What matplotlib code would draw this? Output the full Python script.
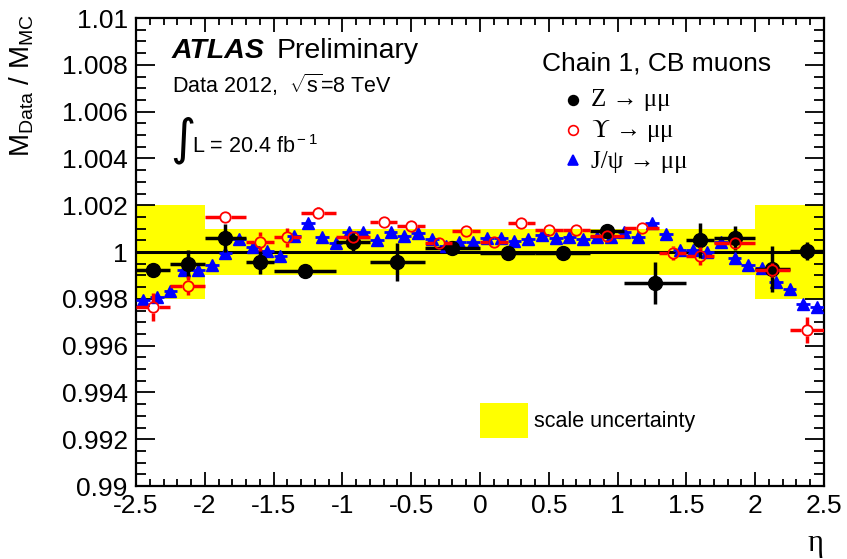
import matplotlib

matplotlib.use("Agg")
import matplotlib.pyplot as plt
import numpy as np
from matplotlib.patches import Rectangle
from matplotlib.ticker import FuncFormatter, MultipleLocator

plt.rcParams["font.family"] = ["Liberation Sans", "DejaVu Sans"]
plt.rcParams["mathtext.fontset"] = "custom"
plt.rcParams["mathtext.rm"] = "Liberation Sans"
plt.rcParams["mathtext.it"] = "Liberation Sans:italic"
plt.rcParams["mathtext.bf"] = "Liberation Sans:bold"

# Z -> mumu, variable eta bins
z_edges = [-2.5, -2.25, -2.0, -1.7, -1.5, -1.05, -0.8, -0.4, 0.0, 0.4, 0.8, 1.05, 1.5, 1.7, 2.0, 2.25, 2.5]
z_ratio = [0.99923, 0.99949, 1.0006, 0.99957, 0.99919, 1.00043, 0.99957, 1.00017,
           0.99996, 0.99996, 1.0009, 0.99867, 1.00051, 1.0006, 0.99927, 1.00004]
z_err = [0.0002, 0.0006, 0.0006, 0.0005, 0.00015, 0.0004, 0.0008, 0.0002,
         0.0001, 0.0001, 0.0002, 0.0009, 0.00075, 0.0005, 0.001, 0.0004]

# Upsilon -> mumu
ups_edges = [-2.5, -2.25, -2.0, -1.7, -1.5, -1.3, -1.05, -0.8, -0.6, -0.4, -0.2, 0.0,
             0.2, 0.4, 0.6, 0.8, 1.05, 1.3, 1.5, 1.7, 2.0, 2.25, 2.5]
ups_ratio = [0.99763, 0.99856, 1.00148, 1.00044, 1.00063, 1.00166, 1.00063, 1.00127, 1.00113, 1.00037, 1.00091,
             1.00044, 1.00125, 1.00094, 1.00094, 1.00068, 1.00104, 0.99997, 0.99983, 1.0004, 0.99923, 0.99666]
ups_err = [0.0006, 0.0004, 0.0002, 0.0004, 0.0004, 0.00025, 0.0002, 0.0002, 0.0001, 0.0001, 0.0001,
           0.0001, 0.0001, 0.0001, 0.0001, 0.0001, 0.0002, 0.0003, 0.0004, 0.0002, 0.0003, 0.00057]

# J/psi -> mumu, 0.1 wide eta bins
jpsi_edges = np.round(np.arange(-2.5, 2.51, 0.1), 2)
jpsi_ratio = [0.99793, 0.99809, 0.99834, 0.99923, 0.99923, 0.99944, 0.99994, 1.00056, 1.00023, 1.00006,
              0.99983, 1.0007, 1.00123, 1.00063, 1.00037, 1.00084, 1.00084, 1.00051, 1.00084, 1.0007,
              1.0008, 1.00056, 1.00027, 1.00044, 1.00044, 1.00059, 1.00059, 1.00048, 1.00056, 1.00073,
              1.00059, 1.00063, 1.00056, 1.00063, 1.00065, 1.00084, 1.00063, 1.00123, 1.00077, 1.00009,
              1.00009, 1.00001, 1.00044, 0.99976, 0.99944, 0.9993, 0.99873, 0.9984, 0.99778, 0.99766]

# momentum scale systematic band
band_edges = [-2.5, -2.0, 2.0, 2.5]
band_half = [0.002, 0.001, 0.002]


def centers_halfwidths(edges):
	e = np.asarray(edges, dtype=float)
	return 0.5 * (e[1:] + e[:-1]), 0.5 * (e[1:] - e[:-1])


def ytick_fmt(v, pos):
	if abs(v - 1) < 1e-9:
		return "1"
	return f"{v:.3f}".rstrip("0").rstrip(".")


def open_marker_errors(ax, x, y, xe, ye, gap_px, **kw):
	# ROOT-style error bars that stop at the edge of a hollow marker
	to_px = ax.transData
	inv = to_px.inverted()
	for xi, yi, dx, dy in zip(x, y, xe, ye):
		cx, cy = to_px.transform((xi, yi))
		gx = inv.transform((cx + gap_px, cy))[0] - xi
		gy = inv.transform((cx, cy + gap_px))[1] - yi
		ax.hlines([yi, yi], [xi - dx, xi + gx], [xi - gx, xi + dx], **kw)
		if dy > gy:
			ax.vlines([xi, xi], [yi - dy, yi + gy], [yi - gy, yi + dy], **kw)


fig = plt.figure(figsize=(8.47, 5.59), dpi=100)
ax = fig.add_axes([136 / 847, 73 / 559, 688 / 847, 468 / 559])
ax.set_xlim(-2.5, 2.5)
ax.set_ylim(0.99, 1.01)

bl = np.asarray(band_edges)
ax.bar(bl[:-1], 2 * np.asarray(band_half), width=np.diff(bl), bottom=1 - np.asarray(band_half),
       align="edge", color="#ffff00", linewidth=0, zorder=1)
ax.axhline(1.0, color="black", lw=2.2, zorder=2)

x, xe = centers_halfwidths(jpsi_edges)
ax.errorbar(x, jpsi_ratio, xerr=xe, yerr=0.00003, fmt="^", color="#0000ff", ms=8.5,
            elinewidth=2, capsize=0, zorder=3)

x, xe = centers_halfwidths(z_edges)
ax.errorbar(x, z_ratio, xerr=xe, yerr=z_err, fmt="o", color="black", ms=10,
            elinewidth=2.5, capsize=0, zorder=4)

x, xe = centers_halfwidths(ups_edges)
open_marker_errors(ax, x, ups_ratio, xe, ups_err, 5.5, color="#ff0000", lw=2.5, zorder=5)
ax.plot(x, ups_ratio, "o", mfc="none", mec="#ff0000", mew=1.3, ms=7.5, zorder=6)

ax.xaxis.set_major_locator(MultipleLocator(0.5))
ax.xaxis.set_minor_locator(MultipleLocator(0.1))
ax.yaxis.set_major_locator(MultipleLocator(0.002))
ax.yaxis.set_minor_locator(MultipleLocator(0.0005))
ax.xaxis.set_major_formatter(FuncFormatter(lambda v, p: f"{v:g}"))
ax.yaxis.set_major_formatter(FuncFormatter(ytick_fmt))
ax.tick_params(which="both", direction="in", top=True, right=True, width=1.3, labelsize=19)
ax.tick_params(axis="x", which="major", length=10, pad=6)
ax.tick_params(axis="x", which="minor", length=5)
ax.tick_params(axis="y", which="major", length=14, pad=6)
ax.tick_params(axis="y", which="minor", length=7)
for s in ax.spines.values():
	s.set_linewidth(1.6)

fig.text(22 / 847, 1 - 14 / 559, r"M$_{\rm Data}$ / M$_{\rm MC}$", rotation=90, ha="center", va="top", fontsize=20)
fig.text(823 / 847, 1 - 543 / 559, "\u03b7", ha="right", va="center", fontsize=22,
         family=["Liberation Serif", "DejaVu Serif"])


def axf(px, py):
	return (px - 136) / 688, (486 - py) / 468


t = ax.transAxes
ax.text(*axf(172, 58), "ATLAS", transform=t, fontsize=20.5, fontweight="bold", style="italic", va="baseline")
ax.text(*axf(277, 58), "Preliminary", transform=t, fontsize=20.5, va="baseline")
ax.text(*axf(172, 93), r"Data 2012,  $\sqrt{\rm s}$=8 TeV", transform=t, fontsize=15.5, va="baseline")
ax.text(*axf(170, 140), "\u222b", transform=t, fontsize=35, va="center", family="DejaVu Sans")
ax.text(*axf(192, 153), r"L = 20.4 fb$^{\rm -1}$", transform=t, fontsize=15.5, va="baseline")

ax.text(*axf(542, 70), "Chain 1, CB muons", transform=t, fontsize=19, va="baseline")
serif = ["Liberation Serif", "DejaVu Serif"]
legend_rows = [
	(100, 106, "o", "black", "black", "Z \u2192 \u03bc\u03bc"),
	(130, 137, "o", "none", "#ff0000", "$\\Upsilon$ \u2192 \u03bc\u03bc"),
	(160, 168, "^", "#0000ff", "#0000ff", "J/\u03c8 \u2192 \u03bc\u03bc"),
]
for my, ty, m, fc, ec, label in legend_rows:
	ax.plot(*axf(573, my), marker=m, ms=7, mfc=fc, mec=ec, mew=1.2,
	        transform=t, clip_on=False, zorder=7)
	ax.text(*axf(591, ty), label, transform=t, fontsize=18, va="baseline", family=serif,
	        math_fontfamily="stix")

x0, y0 = axf(480, 438)
x1, y1 = axf(528, 403)
ax.add_patch(Rectangle((x0, y0), x1 - x0, y1 - y0, transform=t, color="#ffff00", lw=0, zorder=7))
ax.text(*axf(534, 422), "scale uncertainty", transform=t, fontsize=15.5, va="center")

fig.savefig("out.png", dpi=100)
